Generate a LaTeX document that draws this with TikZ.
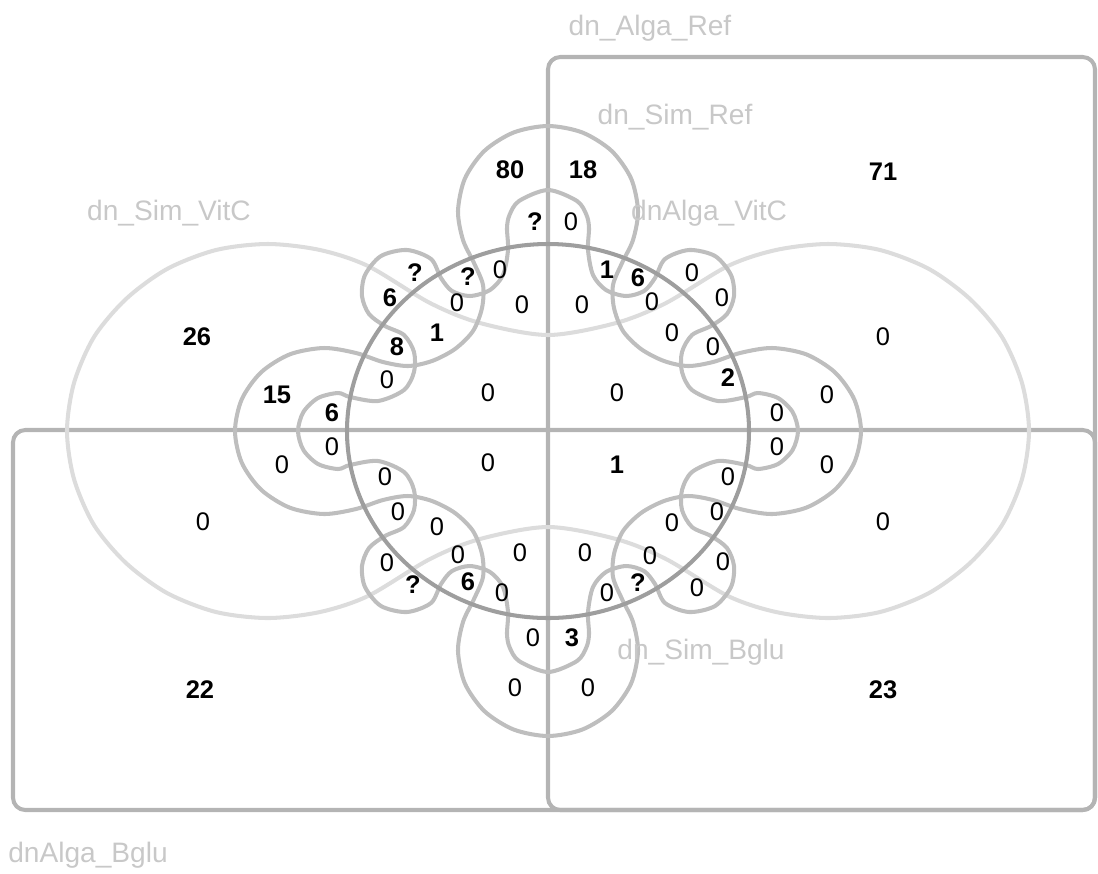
\documentclass[tikz,border=0pt]{standalone}
\usepackage{fontspec}
\setmainfont{Liberation Sans}
\usetikzlibrary{positioning}

\definecolor{rectgray}{HTML}{B4B4B4}
\definecolor{circgray}{HTML}{9E9E9E}
\definecolor{peagray}{HTML}{DCDCDC}
\definecolor{coggray}{HTML}{BEBEBE}
\definecolor{namegray}{HTML}{C8C8C8}

\begin{document}
\begin{tikzpicture}[
    x=0.02cm, y=-0.02cm,
    rectset/.style={draw=rectgray, line width=2.3pt, rounded corners=7pt},
    circset/.style={draw=circgray, line width=2.3pt},
    peanset/.style={draw=peagray, line width=2.3pt},
    cogset/.style={draw=coggray, line width=2.3pt},
    setname/.style={text=namegray, font=\fontsize{16}{16}\selectfont},
    cnt/.style={font=\fontsize{14.5}{14.5}\selectfont, inner sep=0pt},
    cntb/.style={font=\fontsize{14.5}{14.5}\selectfont\bfseries, inner sep=0pt}
]
    \useasboundingbox (0,0) rectangle (1098,873);

    % Half planes
    \draw [rectset] (548,57) rectangle (1095,810);
    \draw [rectset] (13,430) rectangle (1095,810);

    % Peanut
    \draw [peanset] plot [smooth cycle] coordinates {
        (268,244) (320,250) (368,266) (430,303) (480,323) (548,335) (616,323) (666,303)
        (728,266) (776,250) (828,244) (880,250) (929,269) (970,299) (1002,337)
        (1022,383) (1029,431) (1022,479) (1002,525) (970,563) (929,593) (880,612)
        (828,618) (776,612) (728,596) (666,559) (616,539) (548,527) (480,539)
        (430,559) (368,596) (320,612) (268,618) (216,612) (167,593) (126,563)
        (94,525) (74,479) (67,431) (74,383) (94,337) (126,299) (167,269) (216,250)};

    % Big cog
    \draw [cogset] plot [smooth cycle] coordinates {
        (548,126) (513.6,132.5) (484.4,150.9) (464.9,178.5) (458,211) (463,240)
        (474,263) (483,285) (482,308) (473,331) (455,349) (432,361) (408,366)
        (383,362) (356,353) (324,348) (289.9,354.3) (261.1,372.3) (241.8,399.2) (235,431)
        (241.8,462.8) (261.1,489.7) (289.9,507.7) (324,514) (356,509) (383,500)
        (408,496) (432,501) (455,513) (473,531) (482,554) (483,577) (474,599)
        (463,622) (458,651) (464.9,683.5) (484.4,711.1) (513.6,729.5) (548,736)
        (582.4,729.5) (611.6,711.1) (631.1,683.5) (638,651) (633,622) (622,599)
        (613,577) (614,554) (623,531) (641,513) (664,501) (688,496) (713,500)
        (740,509) (772,514) (806.1,507.7) (834.9,489.7) (854.2,462.8) (861,431)
        (854.2,399.2) (834.9,372.3) (806.1,354.3) (772,348) (740,353) (713,362)
        (688,366) (664,361) (641,349) (623,331) (614,308) (613,285) (622,263)
        (633,240) (638,211) (631.1,178.5) (611.6,150.9) (582.4,132.5)};

    % Small cog
    \draw [cogset] plot [smooth cycle] coordinates {
        (548,190) (519,201) (509.5,215) (507,228) (508,250) (503,275) (490,290)
        (470,296) (452,291) (441,278) (431,259) (407,250) (381,256) (365,275)
        (362,296) (369,314) (385,326) (404,335) (414,352) (414,372) (404,390)
        (378,401) (350,397) (338,393) (318,398) (303.4,412) (298,431)
        (303.4,450) (318,464) (338,469) (350,465) (378,461) (404,472) (414,490)
        (414,510) (404,527) (385,536) (369,548) (362,566) (365,587) (381,606)
        (407,612) (431,603) (441,584) (452,571) (470,566) (490,572) (503,587)
        (508,612) (507,634) (509.5,647) (519,661) (548,672)
        (577,661) (586.5,647) (589,634) (588,612) (593,587) (606,572) (626,566)
        (644,571) (655,584) (665,603) (689,612) (715,606) (731,587) (734,566)
        (727,548) (711,536) (692,527) (682,510) (682,490) (692,472) (718,461)
        (746,465) (758,469) (778,464) (792.6,450) (798,431)
        (792.6,412) (778,398) (758,393) (746,397) (718,401) (692,390) (682,372)
        (682,352) (692,335) (711,326) (727,314) (734,296) (731,275) (715,256)
        (689,250) (665,259) (655,278) (644,291) (626,296) (606,290) (593,275)
        (588,250) (589,228) (586.5,215) (577,201)};

    % Circle
    \draw [circset] (548,431) ellipse [x radius=201, y radius=187];

    % Set names
    \node (nAlgaRef) [setname] at (650,28) {dn\_Alga\_Ref};
    \node (nSimRef) [setname] at (675,117) {dn\_Sim\_Ref};
    \node (nSimVitC) [setname] at (169,213) {dn\_Sim\_VitC};
    \node (nAlgaVitC) [setname] at (709,213) {dnAlga\_VitC};
    \node (nSimBglu) [setname] at (701,652) {dn\_Sim\_Bglu};
    \node (nAlgaBglu) [setname] at (88,855) {dnAlga\_Bglu};

    % Counts
    \foreach \px/\py/\t [count=\i] in {510/170/80, 583/170/18, 883/172/71, 197/337/26,
        277/395/15, 332/413/6, 200/690/22, 883/690/23, 535/222/?, 415/273/?, 390/298/6,
        468/277/?, 437/333/1, 397/347/8, 607/270/1, 638/278/6, 728/378/2, 617/465/1,
        413/585/?, 468/582/6, 638/583/?, 572/638/3}
        \node (b\i) [cntb] at (\px,\py) {\t};
    \foreach \px/\py [count=\i] in {571/222, 500/270, 457/303, 522/305, 387/380, 488/393,
        692/273, 722/298, 652/302, 582/305, 672/333, 713/347, 617/393,
        883/337, 827/395, 777/413, 777/447, 827/465, 883/522, 282/465, 332/447, 203/522,
        385/477, 398/512, 437/527, 387/563, 458/555, 502/593, 520/553, 488/463,
        728/477, 717/512, 672/523, 585/553, 650/556, 723/562, 607/593, 697/588,
        533/638, 515/688, 588/688}
        \node (z\i) [cnt] at (\px,\py) {0};
\end{tikzpicture}
\end{document}
